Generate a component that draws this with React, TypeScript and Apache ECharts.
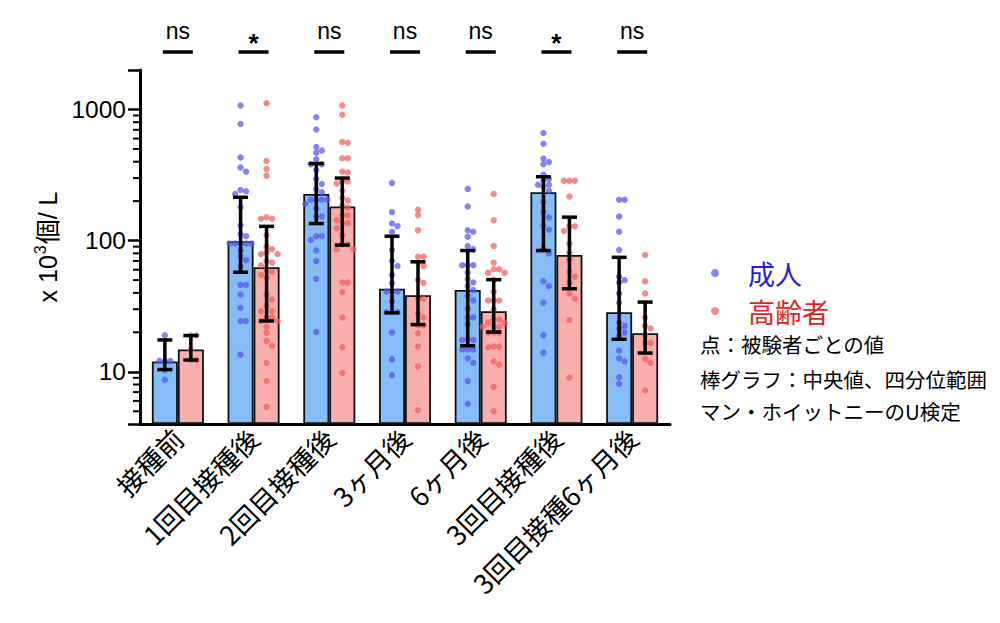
import React, { useEffect, useRef } from 'react';
import * as echarts from 'echarts';

// ---------- data ----------
const categories = ['接種前', '1回目接種後', '2回目接種後', '3ヶ月後', '6ヶ月後', '3回目接種後', '3回目接種6ヶ月後'];
const adultMedian = [12.0, 99, 227, 43, 42, 234, 28.5];
const adultQ1 = [10.4, 57.5, 135, 28.2, 15.8, 84, 17.7];
const adultQ3 = [17.5, 214, 387, 108, 84, 307, 74.6];
const elderMedian = [14.8, 62.7, 182, 38.4, 29, 77.8, 19.7];
const elderQ1 = [12.3, 24.4, 92.5, 22.9, 20.1, 43, 13.9];
const elderQ3 = [18.9, 128.5, 300, 69, 50.4, 151, 34];
const significance = ['ns', '*', 'ns', 'ns', 'ns', '*', 'ns'];
const yTickLabels = [10, 100, 1000];
const yMinorTicks = [5, 6, 7, 8, 9, 20, 30, 40, 50, 60, 70, 80, 90, 200, 300, 400, 500, 600, 700, 800, 900];

const adultPoints: number[][] = [
  [19, 12.1, 12.1, 12.1, 10.3, 8.7],
  [1072, 774, 430, 361, 336, 243, 238, 227, 180, 131, 112, 108, 95, 95, 95, 95, 95, 84, 75, 71, 63.5, 46, 46, 38.8, 30.8, 24.4, 24.4, 13.5],
  [871, 703, 517, 487, 468, 417, 382, 382, 346, 295, 270, 247, 234, 205, 205, 205, 205, 191, 175, 153, 153, 108, 108, 101, 84, 70, 51, 20.1],
  [275, 165, 135, 129, 117, 85, 70, 64, 55, 47.5, 41, 41, 41, 34.5, 28.5, 28.5, 28.5, 19.9, 12.4, 9.4],
  [248, 182, 120, 117, 107, 91, 86, 65, 65, 65, 57, 51, 48, 45, 42, 38, 35, 30.2, 25.9, 25.9, 23, 17.9, 17.5, 17.5, 14.8, 14.8, 14.8, 12.7, 11.7, 8.5, 5.7],
  [662, 547, 422, 398, 382, 318, 295, 286, 267, 267, 258, 240, 196, 165, 150, 131, 121, 86, 80, 49, 45, 33.6, 19, 14],
  [205, 205, 153, 117, 85, 53, 50, 48, 39.5, 33.6, 23.7, 22.4, 21.4, 19.9, 18.8, 14.5, 12.7, 12, 9.1, 8.1],
];
const elderPoints: number[][] = [
  [18.9, 18.9, 14.8, 12.3, 12.3],
  [1117, 405, 351, 312, 151, 147, 147, 110, 90, 86, 81, 79, 79, 70, 68, 65, 60, 58, 55, 52, 38.8, 35.6, 31.7, 29, 29, 25.9, 25.9, 24.4, 24.4, 22.1, 19.9, 17.2, 15.8, 11.7, 8.5, 5.4],
  [1072, 912, 566, 557, 425, 425, 336, 331, 283, 283, 273, 240, 212, 202, 185, 178, 156, 156, 143, 136, 136, 124, 110, 94, 94, 86, 86, 48, 48, 40.4, 25.9, 15.4, 9.8],
  [172, 156, 120, 75.5, 75.5, 68, 64, 50.4, 47.5, 36, 36, 27.9, 25.9, 22.6, 22.6, 19.7, 15.6, 11, 5.1],
  [227, 143, 91, 68, 60.5, 60.5, 57, 57, 50.4, 41, 35, 35, 35, 29.9, 25.1, 25.1, 23.7, 23.7, 22.1, 22.1, 22.1, 19.9, 19.9, 19.9, 15.6, 15.6, 15.4, 12, 11.3, 7.7, 5.0],
  [286, 286, 286, 217, 128.5, 128.5, 118.5, 95, 81, 72, 58, 53, 48, 39.5, 36, 24.8, 9],
  [77.8, 48.9, 39.5, 25.9, 22.4, 21.4, 19, 16.6, 16.6, 12.5, 11.7, 7.2],
];

// ---------- layout constants ----------
const BAR_WIDTH = 26;
const PX_PER_DECADE = 132.5;
const DOT_R = 3.2;
const BLUE_BAR = '#84bdf7';
const RED_BAR = '#f9afae';
const BLUE_DOT = 'rgba(85,85,240,0.72)';
const RED_DOT = 'rgba(244,92,92,0.72)';

// simple deterministic beeswarm (pixel offsets from bar centre)
function swarm(values: number[]): number[] {
  const step = 5.5;
  const cands = [0, step, -step, 2 * step, -2 * step];
  const placed: { x: number; y: number }[] = [];
  const offs: number[] = new Array(values.length).fill(0);
  const order = values.map((_, i) => i).sort((a, b) => values[b] - values[a]);
  for (const i of order) {
    const y = Math.log10(values[i]) * PX_PER_DECADE;
    let best = 0;
    let bestScore = -1;
    for (const c of cands) {
      let minD = Infinity;
      for (const p of placed) {
        const d = Math.hypot(p.x - c, p.y - y);
        if (d < minD) minD = d;
      }
      if (minD >= 5.5) { best = c; bestScore = Infinity; break; }
      if (minD > bestScore) { bestScore = minD; best = c; }
    }
    placed.push({ x: best, y });
    offs[i] = best;
  }
  return offs;
}

function dotSeries(name: string, points: number[][], color: string, side: number) {
  const data: number[][] = [];
  points.forEach((vals, ci) => {
    const offs = swarm(vals);
    vals.forEach((v, k) => data.push([ci, v, offs[k]]));
  });
  return {
    type: 'custom',
    name,
    z: 3,
    itemStyle: { color },
    data,
    encode: { x: 0, y: 1 },
    renderItem: (params: any, api: any) => {
      const p = api.coord([api.value(0), api.value(1)]);
      return {
        type: 'circle',
        shape: { cx: p[0] + side * BAR_WIDTH / 2 + api.value(2), cy: p[1], r: DOT_R },
        style: { fill: color },
      };
    },
  };
}

function errorSeries(name: string, q1: number[], q3: number[], side: number) {
  return {
    type: 'custom',
    name,
    z: 4,
    silent: true,
    data: categories.map((_, i) => [i, q1[i], q3[i]]),
    encode: { x: 0, y: [1, 2] },
    renderItem: (params: any, api: any) => {
      const a = api.coord([api.value(0), api.value(1)]);
      const b = api.coord([api.value(0), api.value(2)]);
      const x = a[0] + side * BAR_WIDTH / 2;
      const st = { stroke: '#000', lineWidth: 3.5 };
      return {
        type: 'group',
        children: [
          { type: 'line', shape: { x1: x, y1: a[1], x2: x, y2: b[1] }, style: st },
          { type: 'line', shape: { x1: x - 7.5, y1: a[1], x2: x + 7.5, y2: a[1] }, style: st },
          { type: 'line', shape: { x1: x - 7.5, y1: b[1], x2: x + 7.5, y2: b[1] }, style: st },
        ],
      };
    },
  };
}

export default function App() {
  const ref = useRef<HTMLDivElement>(null);
  useEffect(() => {
    if (!ref.current) return;
    const chart = echarts.init(ref.current, undefined, { renderer: 'svg' });
    const nameFont = 'Liberation Sans, Noto Sans CJK JP, sans-serif';
    const option: any = {
      animation: false,
      backgroundColor: '#fff',
      grid: { left: 140, right: 330, top: 70, bottom: 199, containLabel: false },
      legend: {
        orient: 'vertical',
        left: 706,
        top: 253,
        icon: 'circle',
        itemWidth: 8,
        itemHeight: 8,
        itemGap: 8,
        selectedMode: false,
        data: [
          { name: '成人', textStyle: { color: '#1e1ee6' } },
          { name: '高齢者', textStyle: { color: '#e61e1e' } },
        ],
        textStyle: { fontSize: 27, fontFamily: 'Noto Sans CJK JP', lineHeight: 30, padding: [0, 0, 0, 24] },
      },
      xAxis: {
        type: 'category',
        data: categories,
        axisLine: { lineStyle: { color: '#000', width: 3 } },
        axisTick: { alignWithLabel: true, length: 12, lineStyle: { color: '#000', width: 3 } },
        axisLabel: { rotate: 45, interval: 0, fontSize: 27, color: '#000', fontFamily: 'Noto Sans CJK JP', margin: 9 },
      },
      yAxis: {
        type: 'log',
        logBase: 10,
        min: 4,
        max: 2000,
        startValue: 4,
        axisLine: { show: true, lineStyle: { color: '#000', width: 3 } },
        axisTick: { show: true, length: 12, lineStyle: { color: '#000', width: 2.5 } },
        axisLabel: {
          fontSize: 24.5,
          color: '#000',
          fontFamily: 'Liberation Sans, Arial, sans-serif',
          margin: 14,
          formatter: (v: number) => (yTickLabels.includes(Math.round(v)) ? String(Math.round(v)) : ''),
        },
        splitLine: { show: false },
      },
      graphic: [
        {
          type: 'text',
          x: 46,
          y: 247,
          rotation: Math.PI / 2,
          style: {
            text: '{a|x 10}{s|3}{a|個/ L}',
            align: 'center',
            verticalAlign: 'middle',
            rich: {
              a: { fontSize: 25, fontFamily: nameFont, fill: '#000', color: '#000', lineHeight: 28, verticalAlign: 'bottom' },
              s: { fontSize: 16, fontFamily: nameFont, fill: '#000', color: '#000', lineHeight: 28, verticalAlign: 'top', padding: [0, 1, 0, 1] },
            },
          },
        },
        { type: 'text', x: 700, y: 344, style: { text: '点：被験者ごとの値', fontSize: 20.5, fontFamily: 'Noto Sans CJK JP', fill: '#000', verticalAlign: 'middle' } },
        { type: 'text', x: 700, y: 379, style: { text: '棒グラフ：中央値、四分位範囲', fontSize: 20.5, fontFamily: 'Noto Sans CJK JP', fill: '#000', verticalAlign: 'middle' } },
        { type: 'text', x: 700, y: 411, style: { text: 'マン・ホイットニーのU検定', fontSize: 20.5, fontFamily: 'Noto Sans CJK JP', fill: '#000', verticalAlign: 'middle' } },
      ],
      series: [
        {
          type: 'bar',
          name: '成人中央値',
          data: adultMedian,
          barWidth: BAR_WIDTH,
          barGap: '0%',
          clip: true,
          z: 2,
          itemStyle: { color: BLUE_BAR, borderColor: '#111', borderWidth: 1.8 },
        },
        {
          type: 'bar',
          name: '高齢者中央値',
          data: elderMedian,
          barWidth: BAR_WIDTH,
          barGap: '0%',
          clip: true,
          z: 2,
          itemStyle: { color: RED_BAR, borderColor: '#111', borderWidth: 1.8 },
        },
        dotSeries('成人', adultPoints, BLUE_DOT, -1),
        dotSeries('高齢者', elderPoints, RED_DOT, 1),
        errorSeries('成人IQR', adultQ1, adultQ3, -1),
        errorSeries('高齢者IQR', elderQ1, elderQ3, 1),
        {
          type: 'custom',
          name: 'minorTicks',
          silent: true,
          z: 5,
          data: yMinorTicks.map((v) => [0, v]),
          encode: { x: 0, y: 1 },
          renderItem: (params: any, api: any) => {
            const y = api.coord([0, api.value(1)])[1];
            const x0 = params.coordSys.x;
            return { type: 'line', shape: { x1: x0 - 7, y1: y, x2: x0, y2: y }, style: { stroke: '#000', lineWidth: 2 } };
          },
        },
        {
          type: 'custom',
          name: 'significance',
          silent: true,
          z: 5,
          data: categories.map((_, i) => [i, 1000]),
          encode: { x: 0, y: 1 },
          renderItem: (params: any, api: any) => {
            const x = api.coord([api.value(0), api.value(1)])[0];
            const top = params.coordSys.y;
            const label = significance[params.dataIndex];
            const star = label === '*';
            return {
              type: 'group',
              children: [
                { type: 'line', shape: { x1: x - 15, y1: top - 18, x2: x + 15, y2: top - 18 }, style: { stroke: '#000', lineWidth: 3.5 } },
                {
                  type: 'text',
                  x,
                  y: star ? top - 27 : top - 39,
                  style: {
                    text: label,
                    fontSize: star ? 26 : 23,
                    fontWeight: star ? 'bold' : 'normal',
                    fontFamily: 'Liberation Sans, Arial, sans-serif',
                    fill: '#000',
                    align: 'center',
                    verticalAlign: 'middle',
                  },
                },
              ],
            };
          },
        },
      ],
    };
    chart.setOption(option);
    return () => chart.dispose();
  }, []);
  return <div ref={ref} style={{ position: 'fixed', left: 0, top: 0, width: 1000, height: 623, background: '#fff' }} />;
}
